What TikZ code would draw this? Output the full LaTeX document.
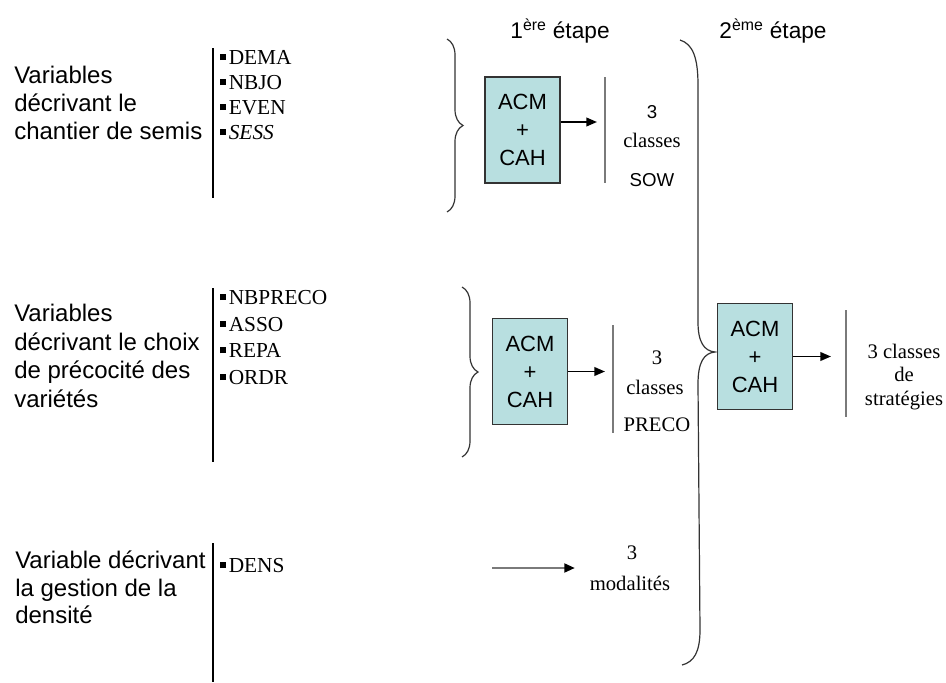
\documentclass[tikz,border=0pt]{standalone}
\usepackage{fontspec}
\setmainfont{Liberation Serif}
\newfontfamily\arialf{Liberation Sans}
\usetikzlibrary{arrows.meta,decorations.pathreplacing}
\definecolor{boxfill}{HTML}{B8DFE0}
\definecolor{sepgray}{HTML}{7A7A7A}
\newcommand\sqbul{\rule[0.2em]{0.28em}{0.28em}\hspace{0.12em}}
\begin{document}
\begin{tikzpicture}[x=0.75pt,y=-0.75pt,
  lefttxt/.style={anchor=north west, inner sep=0, align=left, font=\arialf\fontsize{18}{21}\selectfont},
  items/.style={anchor=north west, inner sep=0, align=left, font=\fontsize{16}{18.75}\selectfont},
  acbox/.style={draw=black!80, line width=1.3pt, fill=boxfill, minimum width=56.25pt, minimum height=79.5pt, inner sep=0, align=center, font=\arialf\fontsize{16.5}{21}\selectfont},
  sepline/.style={draw=black, line width=1pt},
  gsep/.style={draw=sepgray, line width=2.2pt},
  arr/.style={-{Triangle[length=8pt,width=6.5pt,color=black]}, line width=1.3pt},
  lab/.style={inner sep=0, font=\fontsize{15.5}{18}\selectfont},
  slab/.style={inner sep=0, font=\arialf\fontsize{14}{17}\selectfont},
  stage/.style={inner sep=0, font=\arialf\fontsize{17}{20}\selectfont},
  brc/.style={decorate, decoration={brace, amplitude=12pt}, line width=0.9pt, draw=black!80}
]
\useasboundingbox (0,0) rectangle (946,682);

% stage titles
\node[stage] (st1) at (560,31) {1\textsuperscript{ère} étape};
\node[stage] (st2) at (773,31) {2\textsuperscript{ème} étape};

% block 1
\node[lefttxt] (t1) at (14,66) {Variables\\décrivant le\\chantier de semis};
\draw[sepline] (213,48) -- (213,198);
\node[items] (i1) at (220,50) {\sqbul DEMA\\\sqbul NBJO\\\sqbul EVEN\\\sqbul\textit{SESS}};

% block 2
\node[lefttxt, font=\arialf\fontsize{18}{21.5}\selectfont] (t2) at (14,304) {Variables\\décrivant le choix\\de précocité des\\variétés};
\draw[sepline] (213,288) -- (213,462);
\node[items, font=\fontsize{16}{20}\selectfont] (i2) at (220,290) {\sqbul NBPRECO\\\sqbul ASSO\\\sqbul REPA\\\sqbul ORDR};

% block 3
\node[lefttxt, font=\arialf\fontsize{18}{20.6}\selectfont] (t3) at (15,551) {Variable décrivant\\la gestion de la\\densité};
\draw[sepline] (213,543) -- (213,682);
\node[items] (i3) at (220,558) {\sqbul DENS};

% braces
\draw[brc] (447,39) -- (447,212);
\draw[brc] (462,287) -- (462,457);
\draw[line width=0.9pt, draw=black!80]
  (680,40) .. controls (693,44) and (698,58) .. (698,85) -- (698,322)
  .. controls (698,342) and (704,351) .. (715,352)
  .. controls (704,353) and (698,362) .. (698,384) -- (700,630)
  .. controls (700,652) and (694,662) .. (682,665);

% boxes
\node[acbox] (b1) at (522.5,130) {ACM\\+\\CAH};
\node[acbox] (b2) at (530,371.5) {ACM\\+\\CAH};
\node[acbox] (b3) at (755,356.5) {ACM\\+\\CAH};

% gray separators
\draw[gsep] (605,77) -- (605,183);
\draw[gsep] (613,325) -- (613,433);
\draw[gsep] (846,310) -- (846,417);

% arrows
\coordinate (e1) at (597,122);
\coordinate (e2) at (605,0);
\coordinate (e3) at (831,0);
\draw[arr] ([yshift=6pt]b1.east) -- (e1);
\draw[arr] (b2.east) -- (b2.east -| e2);
\draw[arr] (b3.east) -- (b3.east -| e3);
\coordinate (d0) at (492,568);
\coordinate (d1) at (575,568);
\draw[arr, draw=sepgray, line width=2pt] (d0) -- (d1);

% result labels
\node[slab] (n1) at (652,112) {3};
\node[lab] (c1) at (652,140) {classes};
\node[slab] (s1) at (652,180) {SOW};
\node[lab] (n2) at (657,358) {3};
\node[lab] (c2) at (655,387) {classes};
\node[lab] (p2) at (657,425) {PRECO};
\node[lab, align=center, font=\fontsize{15.5}{17.5}\selectfont] (c3) at (904,377) {3 classes\\de\\stratégies};
\node[lab] (n4) at (632,553) {3};
\node[lab] (m4) at (630,583) {modalités};
\end{tikzpicture}
\end{document}
